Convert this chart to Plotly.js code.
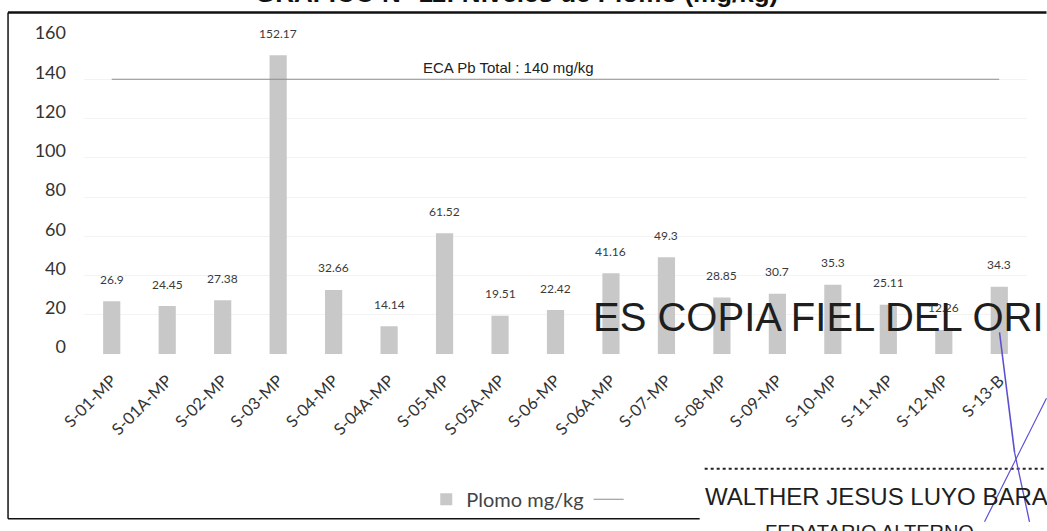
<!DOCTYPE html>
<html>
<head>
<meta charset="utf-8">
<script src="https://cdn.plot.ly/plotly-3.0.1.min.js"></script>
<style>html,body{margin:0;padding:0;background:#fff;}#chart{width:1047px;height:531px;}</style>
</head>
<body>
<div id="chart"></div>
<script>
var categories = ["S-01-MP","S-01A-MP","S-02-MP","S-03-MP","S-04-MP","S-04A-MP","S-05-MP","S-05A-MP","S-06-MP","S-06A-MP","S-07-MP","S-08-MP","S-09-MP","S-10-MP","S-11-MP","S-12-MP","S-13-B"];
var plomo = [26.9, 24.45, 27.38, 152.17, 32.66, 14.14, 61.52, 19.51, 22.42, 41.16, 49.3, 28.85, 30.7, 35.3, 25.11, 12.26, 34.3];
var ecaLimit = 140;
var ecaValues = categories.map(function(){ return ecaLimit; });
var yTicks = [0, 20, 40, 60, 80, 100, 120, 140, 160];

var cal = "Lato, 'Open Sans', sans-serif";
var arial = "'Liberation Sans', Arial, sans-serif";

var traces = [
  {
    type: "bar", x: categories, y: plomo, name: "Plomo mg/kg",
    marker: {color: "#c8c8c8"}, width: 0.31, cliponaxis: false
  },
  {
    type: "scatter", mode: "lines", x: categories, y: ecaValues, name: " ",
    line: {color: "#8c8c8c", width: 1.2}
  }
];

var annotations = categories.map(function(c, i){
  return {x: c, y: plomo[i], xref: "x", yref: "y", text: String(plomo[i]),
    showarrow: false, yanchor: "middle", yshift: 22,
    font: {family: cal, size: 12, color: "#3a3a3a"}};
});
annotations.push({x: 7.16, y: ecaLimit, xref: "x", yref: "y", text: "ECA Pb Total : " + ecaLimit + " mg/kg",
  showarrow: false, yanchor: "bottom", yshift: 1, font: {family: arial, size: 15, color: "#222"}});

var px = function(p){ return (p - 84) / 943.5; };
var py = function(p){ return (360 - p) / 320; };

annotations.push({x: px(517), y: py(9), xref: "paper", yref: "paper", xanchor: "center", yanchor: "bottom",
  text: "<b>GRAFICO N° 11: Niveles de Plomo (mg/kg)</b>", showarrow: false,
  font: {family: arial, size: 26, color: "#111"}});
annotations.push({x: px(1047), y: py(322), xref: "paper", yref: "paper", xanchor: "right", yanchor: "middle",
  text: "ES COPIA FIEL DEL ORI", showarrow: false,
  font: {family: arial, size: 40, color: "#1e1e1e"}});
annotations.push({x: px(703), y: py(505), xref: "paper", yref: "paper", xanchor: "left", yanchor: "middle",
  text: "WALTHER JESUS LUYO BARA", showarrow: false,
  font: {family: arial, size: 24, color: "#1e1e1e"}});
annotations.push({x: px(870), y: py(541), xref: "paper", yref: "paper", xanchor: "center", yanchor: "middle",
  text: "FEDATARIO ALTERNO", showarrow: false,
  font: {family: arial, size: 20, color: "#1e1e1e"}});

var purple = "#5b50d2";
var shapes = [
  {type: "line", xref: "paper", yref: "paper", x0: px(8), x1: px(1047), y0: py(12), y1: py(12), line: {color: "#111", width: 2.5}},
  {type: "line", xref: "paper", yref: "paper", x0: px(8), x1: px(8), y0: py(12), y1: py(528), line: {color: "#111", width: 1.5}},
  {type: "line", xref: "paper", yref: "paper", x0: px(8), x1: px(700), y0: py(528), y1: py(528), line: {color: "#111", width: 1.5}},
  {type: "line", xref: "paper", yref: "paper", x0: px(705), x1: px(1047), y0: py(477), y1: py(477), line: {color: "#222", width: 2, dash: "dot"}},
  {type: "line", xref: "paper", yref: "paper", x0: px(1000), x1: px(1015), y0: py(338), y1: py(460), line: {color: purple, width: 1.6}},
  {type: "line", xref: "paper", yref: "paper", x0: px(1015), x1: px(1030), y0: py(460), y1: py(531), line: {color: purple, width: 1.3}},
  {type: "line", xref: "paper", yref: "paper", x0: px(1047), x1: px(985), y0: py(405), y1: py(531), line: {color: purple, width: 1.2}}
];

var layout = {
  width: 1047, height: 531,
  margin: {l: 84, r: 19.5, t: 40, b: 171},
  paper_bgcolor: "#fff", plot_bgcolor: "#fff",
  showlegend: true,
  legend: {orientation: "h", x: px(533), xanchor: "center", y: py(508), yanchor: "middle",
    font: {family: cal, size: 20, color: "#444"}, bgcolor: "rgba(0,0,0,0)"},
  xaxis: {type: "category", tickangle: -45, showline: false, showgrid: false, ticks: "",
    ticklabelstandoff: 13,
    tickfont: {family: cal, size: 16.5, color: "#333"}, range: [-0.5, categories.length - 0.5]},
  yaxis: {range: [0, 160], tickvals: yTicks, showline: false, zeroline: false,
    showgrid: true, gridcolor: "#f3f3f3", ticklabelstandoff: 17, ticklabelshift: -7,
    tickfont: {family: cal, size: 18, color: "#333"}},
  annotations: annotations,
  shapes: shapes,
  bargap: 0.69
};

Plotly.newPlot("chart", traces, layout, {displayModeBar: false, staticPlot: true});
</script>
</body>
</html>
